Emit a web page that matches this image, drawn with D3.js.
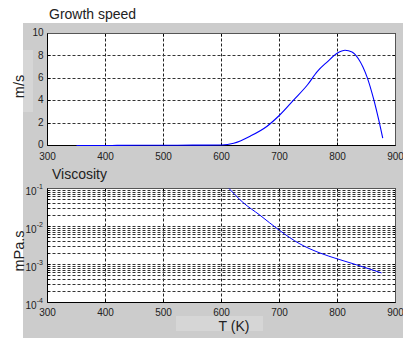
<!DOCTYPE html>
<html><head><meta charset="utf-8">
<script src="https://cdn.jsdelivr.net/npm/d3@7"></script>
<style>html,body{margin:0;padding:0;background:#fff;}svg{display:block;font-family:"Liberation Sans",Arial,sans-serif;}</style>
</head><body>
<script>
// Data
const xTicks = [300, 400, 500, 600, 700, 800, 900];
const growthTicks = [0, 2, 4, 6, 8, 10];
const viscExps = [-4, -3, -2, -1];
const growthT = [350, 400, 420, 500, 550, 600, 621, 650, 678, 700, 725, 748, 765, 782, 800, 813, 825, 836, 851, 862, 871, 878];
const growthV = [0, 0, 0.01, 0.02, 0.03, 0.05, 0.2, 0.85, 1.7, 2.7, 4.1, 5.4, 6.6, 7.45, 8.25, 8.5, 8.35, 7.75, 6.1, 4.2, 2.3, 0.65];
const viscT = [613, 637, 666, 700, 735, 770, 800, 833, 876];
const viscV = [0.1, 0.043, 0.020, 0.0079, 0.0035, 0.0020, 0.0014, 0.00098, 0.0006];
const titles = ["Growth speed", "Viscosity"];
const yLabels = ["m/s", "mPa.s"];
const xLabel = "T (K)";

const W = 403, H = 338;
const svg = d3.select("body").append("svg").attr("width", W).attr("height", H);
svg.append("rect").attr("x", 23).attr("y", 23).attr("width", W - 23).attr("height", H - 23).attr("fill", "#cccccc");
svg.append("rect").attr("x", 23).attr("y", 50).attr("width", 10).attr("height", 62).attr("fill", "#d6d6d6");
svg.append("rect").attr("x", 176).attr("y", 316).attr("width", 87).attr("height", 15).attr("fill", "#d6d6d6");

const x = d3.scaleLinear().domain([300, 900]).range([47.5, 395.5]);
const yTop = d3.scaleLinear().domain([0, 10]).range([145.5, 33.5]);
const yBot = d3.scaleLog().domain([1e-4, 1e-1]).range([302.5, 188.5]);

function crisp(v){ return Math.floor(v) + 0.5; }

function panel(y, yTicksPos, minorPos, top, bottom) {
  const g = svg.append("g");
  g.append("rect").attr("x", x(300)).attr("y", top).attr("width", x(900) - x(300)).attr("height", bottom - top).attr("fill", "#fff");
  xTicks.slice(1, -1).forEach(t => {
    g.append("line").attr("x1", crisp(x(t))).attr("x2", crisp(x(t))).attr("y1", top).attr("y2", bottom)
      .attr("stroke", "#222").attr("stroke-dasharray", "3,2");
  });
  yTicksPos.concat(minorPos).forEach(p => {
    if (Math.abs(p - top) < 1 || Math.abs(p - bottom) < 1) return;
    g.append("line").attr("x1", x(300)).attr("x2", x(900)).attr("y1", crisp(p)).attr("y2", crisp(p))
      .attr("stroke", "#333").attr("stroke-dasharray", "3,2");
  });
  xTicks.forEach(t => {
    const xx = crisp(x(t));
    g.append("line").attr("x1", xx).attr("x2", xx).attr("y1", bottom).attr("y2", bottom - 3).attr("stroke", "#000");
    g.append("line").attr("x1", xx).attr("x2", xx).attr("y1", top).attr("y2", top + 3).attr("stroke", "#000");
  });
  yTicksPos.forEach(p => {
    g.append("line").attr("x1", x(300)).attr("x2", x(300) + 3).attr("y1", crisp(p)).attr("y2", crisp(p)).attr("stroke", "#000");
    g.append("line").attr("x1", x(900)).attr("x2", x(900) - 3).attr("y1", crisp(p)).attr("y2", crisp(p)).attr("stroke", "#000");
  });
  minorPos.forEach(p => {
    g.append("line").attr("x1", x(300)).attr("x2", x(300) + 2).attr("y1", crisp(p)).attr("y2", crisp(p)).attr("stroke", "#000");
    g.append("line").attr("x1", x(900)).attr("x2", x(900) - 2).attr("y1", crisp(p)).attr("y2", crisp(p)).attr("stroke", "#000");
  });
  g.append("line").attr("x1", crisp(x(300))).attr("x2", crisp(x(900))).attr("y1", crisp(top)).attr("y2", crisp(top)).attr("stroke", "#555");
  g.append("line").attr("x1", crisp(x(900))).attr("x2", crisp(x(900))).attr("y1", crisp(top)).attr("y2", crisp(bottom)).attr("stroke", "#555");
  g.append("line").attr("x1", crisp(x(300))).attr("x2", crisp(x(300))).attr("y1", crisp(top)).attr("y2", crisp(bottom)).attr("stroke", "#000");
  g.append("line").attr("x1", crisp(x(300))).attr("x2", crisp(x(900))).attr("y1", crisp(bottom)).attr("y2", crisp(bottom)).attr("stroke", "#000");
  return g;
}

// Top panel
panel(yTop, growthTicks.map(yTop), [], yTop(10), yTop(0));
growthTicks.forEach(t => {
  svg.append("text").attr("x", 43.5).attr("y", yTop(t) + 2.6).attr("text-anchor", "end")
    .attr("font-size", 10).attr("fill", "#222").text(t);
});
xTicks.forEach(t => {
  svg.append("text").attr("x", x(t)).attr("y", 159.5).attr("text-anchor", "middle")
    .attr("font-size", 10).attr("fill", "#222").text(t);
});
const lineTop = d3.line().x((d, i) => x(growthT[i])).y(d => yTop(d)).curve(d3.curveMonotoneX);
svg.append("path").attr("d", lineTop(growthV)).attr("fill", "none").attr("stroke", "#0000ff").attr("stroke-width", 1.1);

// Bottom panel
const minors = [];
viscExps.slice(0, -1).forEach(e => { for (let k = 2; k <= 9; k++) minors.push(yBot(k * Math.pow(10, e))); });
panel(yBot, viscExps.map(e => yBot(Math.pow(10, e))), minors, yBot(1e-1), yBot(1e-4));
viscExps.forEach(e => {
  const t = svg.append("text").attr("x", 25.5).attr("y", yBot(Math.pow(10, e)) + 6.5)
    .attr("font-size", 10).attr("fill", "#222");
  t.append("tspan").text("10");
  t.append("tspan").attr("dy", -6).attr("font-size", 7).text(e < 0 ? "-" + Math.abs(e) : e);
});
xTicks.forEach(t => {
  svg.append("text").attr("x", x(t)).attr("y", 315.5).attr("text-anchor", "middle")
    .attr("font-size", 10).attr("fill", "#222").text(t);
});
const lineBot = d3.line().x((d, i) => x(viscT[i])).y(d => yBot(d)).curve(d3.curveMonotoneX);
svg.append("path").attr("d", lineBot(viscV)).attr("fill", "none").attr("stroke", "#0000ff").attr("stroke-width", 1);

// Titles and labels
svg.append("text").attr("x", 49).attr("y", 19).attr("font-size", 14).attr("fill", "#222").text(titles[0]);
svg.append("text").attr("x", 52).attr("y", 179).attr("font-size", 14).attr("fill", "#222").text(titles[1]);
svg.append("text").attr("transform", "translate(24,86.5) rotate(-90)").attr("text-anchor", "middle")
  .attr("font-size", 14.5).attr("fill", "#222").text(yLabels[0]);
svg.append("text").attr("transform", "translate(24,251) rotate(-90)").attr("text-anchor", "middle")
  .attr("font-size", 14.5).attr("fill", "#222").text(yLabels[1]);
svg.append("text").attr("x", 234).attr("y", 331).attr("text-anchor", "middle")
  .attr("font-size", 14).attr("fill", "#222").text(xLabel);
</script>
</body></html>
